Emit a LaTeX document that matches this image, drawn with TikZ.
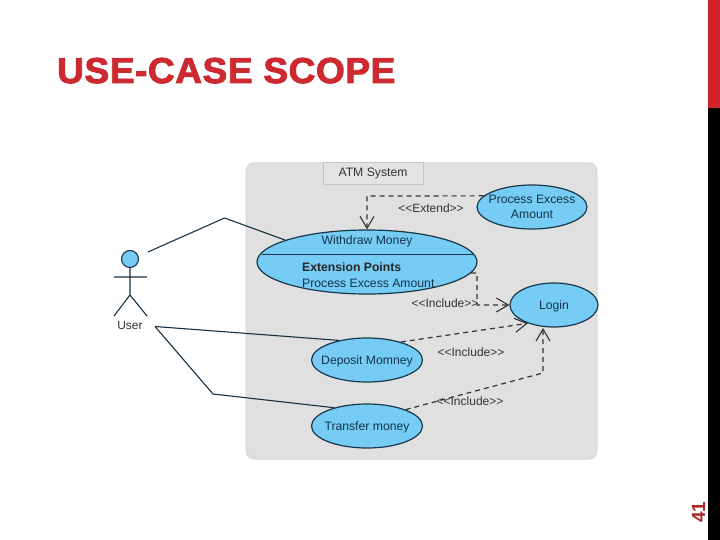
\documentclass[tikz,border=0pt]{standalone}
\usepackage{fontspec}
\setmainfont{Liberation Sans}
\usetikzlibrary{arrows.meta,shapes.geometric}
\definecolor{ucfill}{HTML}{76CCF5}
\definecolor{ucline}{HTML}{17384A}
\definecolor{uctext}{HTML}{12344A}
\definecolor{lbl}{HTML}{333333}
\definecolor{redbar}{HTML}{D2232A}
\definecolor{titlered}{HTML}{CC2A30}
\newcommand{\zw}[1]{\makebox[0pt][c]{\raisebox{-1pt}[\height][\depth]{\begin{tabular}{@{}c@{}}#1\end{tabular}}}}
\tikzset{
  uc/.style={ellipse,draw=ucline,fill=ucfill,line width=1.2pt,inner sep=0pt,text=uctext,font=\fontsize{12.2}{15}\selectfont},
  lab/.style={inner sep=0pt,text=lbl,font=\fontsize{12}{14}\selectfont},
  assoc/.style={draw=ucline!90!black,line width=1.1pt},
  dep/.style={draw=lbl,line width=1.2pt,dash pattern=on 5pt off 4pt},
  deptip/.style={dep,-{Straight Barb[length=12pt,width=14pt,line width=1.1pt]}}
}
\begin{document}
\begin{tikzpicture}[x=1pt,y=-1pt]
\useasboundingbox (0,0) rectangle (720,540);
\fill[white] (0,0) rectangle (720,540);
% side bar
\fill[redbar] (708,0) rectangle (720,108);
\fill[black] (708,108) rectangle (720,540);
\node[rotate=90,inner sep=0pt,text=titlered!85!black,font=\fontsize{19}{19}\selectfont\bfseries] (num) at (698.5,512) {41};
% title
\node[anchor=base west,inner sep=0pt,text=titlered,font=\fontsize{36}{36}\selectfont\bfseries] (title) at (57,83) {\addfontfeatures{LetterSpace=1.5,FakeStretch=1.03,FakeBold=2.5}USE-CASE SCOPE};
% system
\node[draw=black!15,fill=black!12,line width=1pt,rounded corners=8pt,minimum width=351pt,minimum height=296pt,inner sep=0pt] (sys) at (421.5,311) {};
\node[draw=black!23,fill=black!11,line width=1pt,minimum width=100pt,minimum height=22pt,inner sep=0pt,text=lbl,font=\fontsize{12.2}{15}\selectfont] (tab) at (373,174) {ATM System};
% actor
\node[circle,draw=ucline,fill=ucfill,line width=1.1pt,minimum size=17pt,inner sep=0pt] (head) at (130,259) {};
\coordinate (hip) at (130,295);
\coordinate (armL) at (114,277);
\coordinate (armR) at (147,277);
\coordinate (legL) at (114,316);
\coordinate (legR) at (147,316);
\draw[assoc] (head.south) -- (hip) (armL) -- (armR) (legL) -- (hip) -- (legR);
\node[lab] (user) at (130,325) {User};
% use cases
\node[uc,minimum width=220pt,minimum height=64pt] (wd) at (367,262) {};
\node[uc,minimum width=110pt,minimum height=44pt] (pe) at (532,207) {\zw{Process Excess\\Amount}};
\node[uc,minimum width=88pt,minimum height=44pt] (login) at (554,305) {\zw{Login}};
\node[uc,minimum width=111pt,minimum height=44pt] (dep) at (367,360) {\zw{Deposit Momney}};
\node[uc,minimum width=111pt,minimum height=44pt] (tr) at (367,426) {\zw{Transfer money}};
\coordinate (cL) at (261.5,254);
\coordinate (cR) at (472.5,254);
\draw[draw=ucline,line width=.8pt] (cL) -- (cR);
\node[inner sep=0pt,text=uctext,font=\fontsize{12.2}{15}\selectfont] (wdt) at (367,241) {Withdraw Money};
\node[inner sep=0pt,anchor=west,text=black!85,font=\fontsize{12.2}{15}\selectfont\bfseries] (ep) at (302,267.5) {Extension Points};
\node[inner sep=0pt,anchor=west,text=uctext,font=\fontsize{12.2}{15}\selectfont] (pea) at (302,283.5) {Process Excess Amount};
% associations
\coordinate (a1) at (148,252);
\coordinate (a2) at (224.5,218);
\coordinate (a3) at (155,326.5);
\coordinate (a4) at (213,394);
\draw[assoc] (a1) -- (a2) -- (wd.165);
\draw[assoc] (a3) -- (dep.145);
\draw[assoc] (a3) -- (a4) -- (tr.151);
% dependencies
\coordinate (b1) at (367,196);
\draw[deptip] (pe.167) -- (b1) -- (wd.north);
\coordinate (b2) at (477,273);
\coordinate (b3) at (477,305);
\draw[deptip] (wd.-6) -- (b2) -- (b3) -- (login.west);
\draw[deptip] (dep.28) -- (login.215);
\coordinate (b4) at (543,373);
\coordinate (b5) at (543,328);
\draw[deptip] (tr.23) -- (b4) -- (b5);
% labels
\node[lab] (l1) at (431,208) {<{}<Extend>{}>};
\node[lab] (l2) at (445,303) {<{}<Include>{}>};
\node[lab] (l3) at (471,352) {<{}<Include>{}>};
\node[lab] (l4) at (470,401) {<{}<Include>{}>};
\end{tikzpicture}
\end{document}
